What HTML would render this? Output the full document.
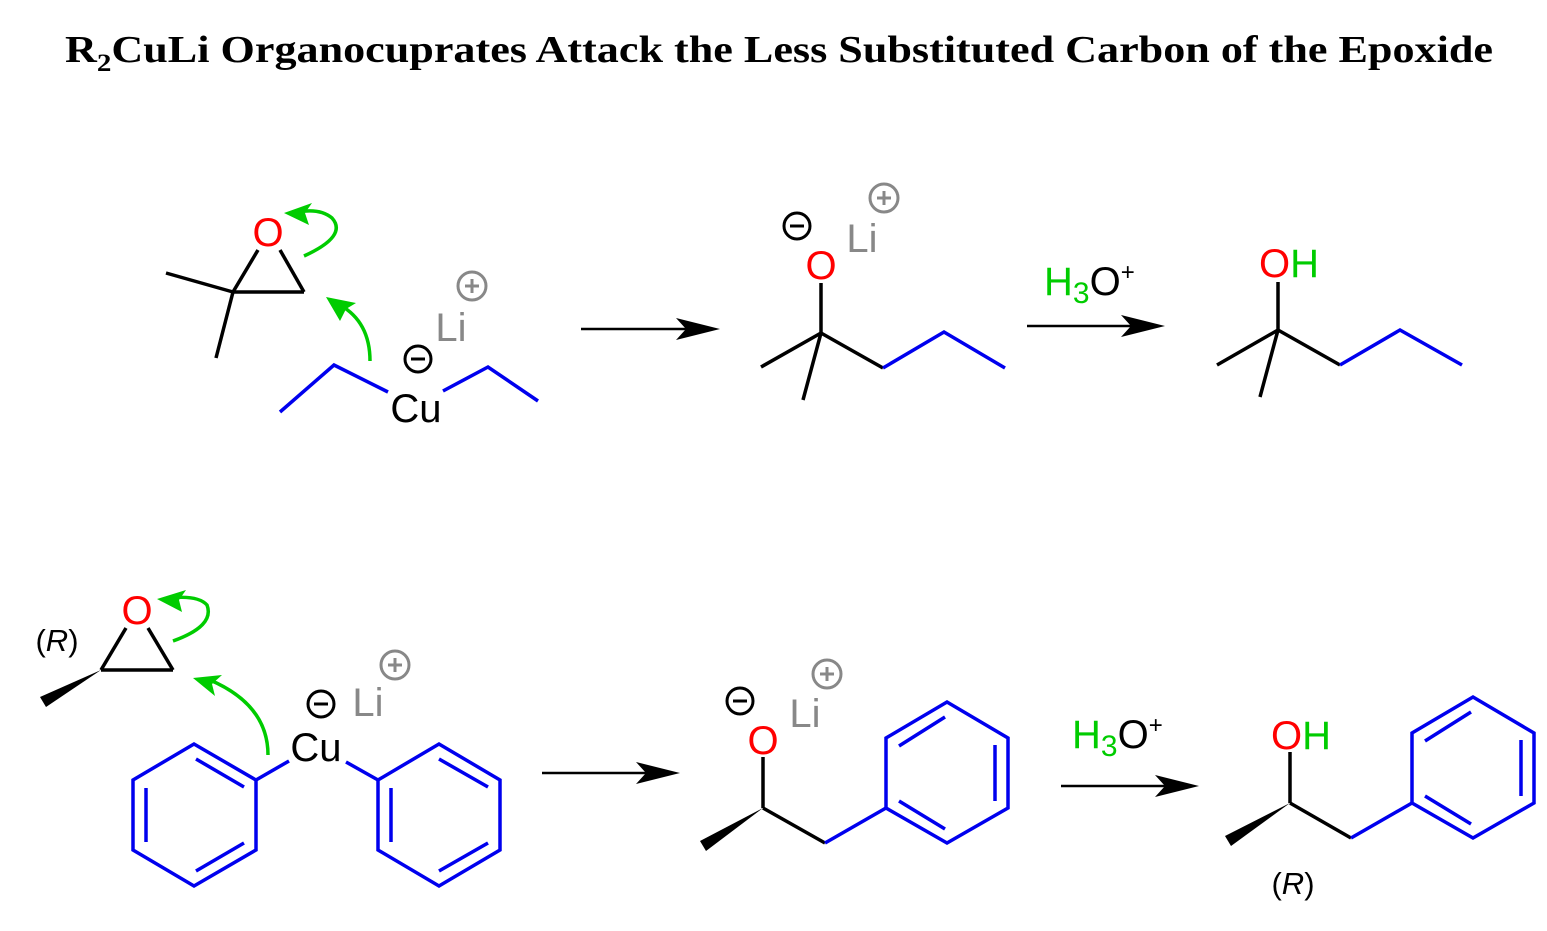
<!DOCTYPE html>
<html><head><meta charset="utf-8"><style>
html,body{margin:0;padding:0;background:#fff;}
svg{display:block;}
text{font-family:"Liberation Sans",sans-serif;}
</style></head><body>
<svg width="1547" height="931" viewBox="0 0 1547 931" xmlns="http://www.w3.org/2000/svg">
<text x="65" y="62" textLength="1428" lengthAdjust="spacingAndGlyphs" style="font-family:'Liberation Serif',serif;font-weight:bold;font-size:38px">R<tspan dy="9" font-size="25">2</tspan><tspan dy="-9">CuLi Organocuprates Attack the Less Substituted Carbon of the Epoxide</tspan></text>

<g stroke-width="3.5" fill="none" stroke-linecap="butt">
<g stroke="#000">
<line x1="258" y1="250" x2="233" y2="292"/><line x1="280" y1="250" x2="304" y2="292"/>
<line x1="233" y1="292" x2="304" y2="292"/>
<line x1="166" y1="273" x2="233" y2="292"/><line x1="216" y1="358" x2="233" y2="292"/>
</g>
<g stroke="#0000ee">
<polyline points="280,412 334,365 388,392"/><polyline points="443,391 488,367 538,401"/>
</g>
<g stroke="#00cc00">
<path d="M304,256 Q348,236 332,218 Q320,208 298,212"/>
<path d="M370,361 Q370,322 340,305"/>
</g>
<line x1="581" y1="329" x2="690" y2="329" stroke="#000" stroke-width="2.5"/>
<g stroke="#000">
<line x1="821" y1="283" x2="821" y2="333"/>
<line x1="821" y1="333" x2="761" y2="367"/><line x1="821" y1="333" x2="803" y2="400"/>
<line x1="821" y1="333" x2="883" y2="368"/>
</g>
<polyline points="883,368 944,332 1005,368" stroke="#0000ee"/>
<line x1="1027" y1="326" x2="1135" y2="326" stroke="#000" stroke-width="2.5"/>
<g stroke="#000">
<line x1="1278" y1="282" x2="1278" y2="330"/>
<line x1="1278" y1="330" x2="1217" y2="365"/><line x1="1278" y1="330" x2="1260" y2="397"/>
<line x1="1278" y1="330" x2="1340" y2="365"/>
</g>
<polyline points="1340,365 1400,330 1462,365" stroke="#0000ee"/>

<g stroke="#000">
<line x1="126" y1="628" x2="101" y2="670"/><line x1="148" y1="628" x2="173" y2="670"/>
<line x1="101" y1="670" x2="173" y2="670"/>
</g>
<g stroke="#00cc00">
<path d="M173,641 Q215,626 207,605 Q198,595 170,598"/>
<path d="M268,755 Q268,705 210,680"/>
</g>
<g stroke="#0000ee">
<line x1="256" y1="780" x2="289" y2="761"/><line x1="346" y1="762" x2="378" y2="780"/>
<polygon points="256,780 256,850 194,886 133,850 133,780 194,744"/>
<line x1="196" y1="759" x2="244" y2="787"/><line x1="146" y1="788" x2="146" y2="842"/><line x1="244" y1="843" x2="196" y2="871"/>
<polygon points="378,780 439,744 500,780 500,850 439,886 378,850"/>
<line x1="391" y1="788" x2="391" y2="842"/><line x1="439" y1="759" x2="488" y2="787"/><line x1="488" y1="843" x2="439" y2="871"/>
</g>
<line x1="542" y1="773" x2="650" y2="773" stroke="#000" stroke-width="2.5"/>
<g stroke="#000">
<line x1="763" y1="757" x2="763" y2="808"/><line x1="763" y1="808" x2="825" y2="843"/>
</g>
<g stroke="#0000ee">
<line x1="825" y1="843" x2="886" y2="808"/>
<polygon points="886,808 886,738 947,702 1008,738 1008,808 947,843"/>
<line x1="899" y1="746" x2="945" y2="717"/><line x1="995" y1="745" x2="995" y2="801"/><line x1="945" y1="829" x2="899" y2="801"/>
</g>
<line x1="1061" y1="786" x2="1170" y2="786" stroke="#000" stroke-width="2.5"/>
<g stroke="#000">
<line x1="1290" y1="752" x2="1290" y2="803"/><line x1="1290" y1="803" x2="1351" y2="838"/>
</g>
<g stroke="#0000ee">
<line x1="1351" y1="838" x2="1412" y2="803"/>
<polygon points="1412,803 1412,733 1473,697 1534,733 1534,803 1473,838"/>
<line x1="1425" y1="741" x2="1471" y2="712"/><line x1="1521" y1="740" x2="1521" y2="796"/><line x1="1471" y1="824" x2="1425" y2="796"/>
</g>
</g>
<polygon points="101,670 40,697 46,707" fill="#000"/>
<polygon points="763,808 700,841 706,851" fill="#000"/>
<polygon points="1290,803 1225,836 1231,846" fill="#000"/>
<g fill="#000">
<polygon points="720,329 676,318 686,329 676,340"/>
<polygon points="1165,326 1121,315 1131,326 1121,337"/>
<polygon points="680,773 636,762 646,773 636,784"/>
<polygon points="1199,786 1155,775 1165,786 1155,797"/>
</g>
<g fill="#00cc00">
<polygon points="284,213 312,203 305,213 309,225"/>
<polygon points="326,297 356,303 346,309 340,321"/>
<polygon points="157,599 186,590 179,600 182,612"/>
<polygon points="193,678 222,675 212,684 215,696"/>
</g>
<g font-size="40">
<text x="268" y="246" text-anchor="middle" fill="#ff0000">O</text>
<text x="416" y="422" text-anchor="middle" fill="#000">Cu</text>
<text x="451" y="341" text-anchor="middle" fill="#888">Li</text>
<text x="821" y="279" text-anchor="middle" fill="#ff0000">O</text>
<text x="862" y="252" text-anchor="middle" fill="#888">Li</text>
<text x="1044" y="295" fill="#00cc00">H<tspan dy="8" font-size="30">3</tspan><tspan dy="-8" fill="#000">O</tspan><tspan dy="-15" font-size="24" fill="#000">+</tspan></text>
<text x="1259" y="277" fill="#ff0000">O<tspan fill="#00cc00">H</tspan></text>
<text x="137" y="624" text-anchor="middle" fill="#ff0000">O</text>
<text x="316" y="761" text-anchor="middle" fill="#000">Cu</text>
<text x="368" y="716" text-anchor="middle" fill="#888">Li</text>
<text x="763" y="754" text-anchor="middle" fill="#ff0000">O</text>
<text x="805" y="727" text-anchor="middle" fill="#888">Li</text>
<text x="1072" y="748" fill="#00cc00">H<tspan dy="8" font-size="30">3</tspan><tspan dy="-8" fill="#000">O</tspan><tspan dy="-15" font-size="24" fill="#000">+</tspan></text>
<text x="1271" y="749" fill="#ff0000">O<tspan fill="#00cc00">H</tspan></text>
</g>
<g font-size="31" fill="#000">
<text x="57" y="651" text-anchor="middle">(<tspan font-style="italic">R</tspan>)</text>
<text x="1293" y="894" text-anchor="middle">(<tspan font-style="italic">R</tspan>)</text>
</g>
<g fill="none" stroke-width="3">
<g stroke="#000">
<circle cx="418" cy="359" r="13"/><line x1="411" y1="359" x2="425" y2="359"/>
<circle cx="797" cy="226" r="13"/><line x1="790" y1="226" x2="804" y2="226"/>
<circle cx="321" cy="704" r="13"/><line x1="314" y1="704" x2="328" y2="704"/>
<circle cx="740" cy="701" r="13"/><line x1="733" y1="701" x2="747" y2="701"/>
</g>
<g stroke="#888">
<circle cx="472" cy="286" r="14"/><path d="M465,286h14M472,279v14"/>
<circle cx="884" cy="198" r="14"/><path d="M877,198h14M884,191v14"/>
<circle cx="395" cy="665" r="14"/><path d="M388,665h14M395,658v14"/>
<circle cx="827" cy="674" r="14"/><path d="M820,674h14M827,667v14"/>
</g>
</g>
</svg>
</body></html>
